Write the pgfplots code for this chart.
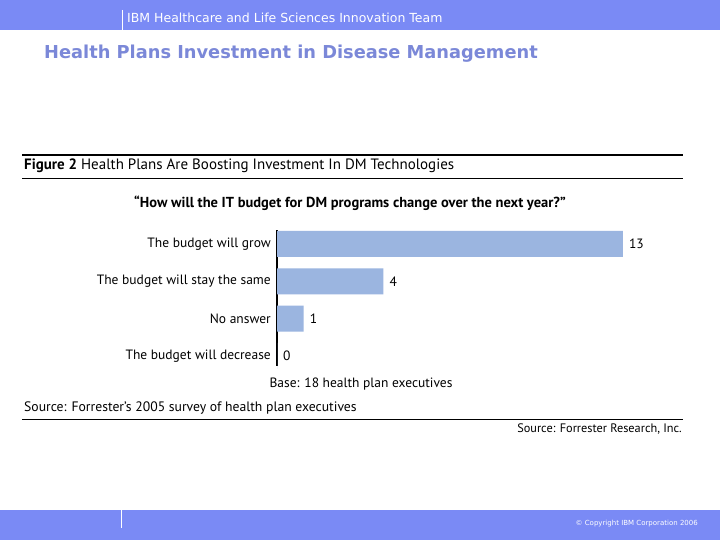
\documentclass[border=0pt]{standalone}
\usepackage{pgfplots}
\pgfplotsset{compat=1.18}
\usepackage{fontspec}
\setmainfont{PT Sans}
\newfontfamily\dejavu{DejaVu Sans}
\definecolor{band}{RGB}{122,138,245}
\definecolor{titleblue}{RGB}{123,136,216}
\definecolor{barblue}{RGB}{155,181,224}

\begin{document}
\begin{tikzpicture}
% page and the two blue bands
\fill[white] (0,0) rectangle (720pt,-540pt);
\path[use as bounding box] (0,0) rectangle (720pt,-540pt);
\fill[band] (0,0) rectangle (720pt,-30pt);
\fill[band] (0,-510pt) rectangle (720pt,-540pt);
\draw[white, line width=1pt] (122pt,-10pt) -- (122pt,-30pt);
\draw[white, line width=1pt] (121pt,-510pt) -- (121pt,-528pt);
\node[anchor=west, text=white, inner sep=0pt, font=\dejavu\fontsize{12.5}{14}\selectfont]
  at (127pt,-18pt) {IBM Healthcare and Life Sciences Innovation Team};
\node[anchor=west, text=titleblue, inner sep=0pt, font=\dejavu\bfseries\fontsize{17.8}{20}\selectfont]
  at (44pt,-54pt) {Health Plans Investment in Disease Management};
\node[anchor=east, text=white, inner sep=0pt, font=\dejavu\fontsize{7}{8}\selectfont]
  at (698pt,-524pt) {© Copyright IBM Corporation 2006};

% figure frame
\draw[black, line width=2pt] (22pt,-155pt) -- (683pt,-155pt);
\draw[black, line width=0.8pt] (22pt,-178pt) -- (683pt,-178pt);
\draw[black, line width=0.8pt] (22pt,-419pt) -- (683pt,-419pt);
\node[anchor=west, inner sep=0pt, font=\fontsize{15}{17}\selectfont]
  at (24pt,-166pt) {\textbf{Figure 2} Health Plans Are Boosting Investment In DM Technologies};
\node[inner sep=0pt, font=\bfseries\fontsize{14.5}{16}\selectfont]
  at (350pt,-203pt) {“How will the IT budget for DM programs change over the next year?”};

\begin{axis}[
  at={(277pt,-230pt)}, anchor=north west,
  scale only axis, width=345.8pt, height=136pt,
  xmin=0, xmax=13, ymin=-0.375, ymax=3.27,
  y dir=reverse,
  xbar, bar width=26pt,
  axis x line=none, axis y line*=left,
  axis line style={black, line width=1.2pt},
  major tick length=0pt,
  ytick={0,1,2,3},
  yticklabels={The budget will grow, The budget will stay the same, No answer, The budget will decrease},
  yticklabel style={font=\fontsize{13.5}{15}\selectfont, inner sep=0pt, xshift=-6pt},
  nodes near coords,
  every node near coord/.append style={font=\fontsize{13.5}{15}\selectfont, inner sep=0pt, xshift=6pt},
  /pgf/number format/assume math mode=true,
  clip=false,
]
\addplot[fill=barblue, draw=none] coordinates {(13,0) (4,1) (1,2) (0,3)};
\end{axis}

\node[inner sep=0pt, font=\fontsize{13.5}{15}\selectfont]
  at (361pt,-384pt) {Base: 18 health plan executives};
\node[anchor=west, inner sep=0pt, font=\fontsize{13.7}{15}\selectfont]
  at (24pt,-408pt) {Source: Forrester’s 2005 survey of health plan executives};
\node[anchor=east, inner sep=0pt, font=\fontsize{12.3}{14}\selectfont]
  at (682pt,-429pt) {Source: Forrester Research, Inc.};
\end{tikzpicture}
\end{document}
